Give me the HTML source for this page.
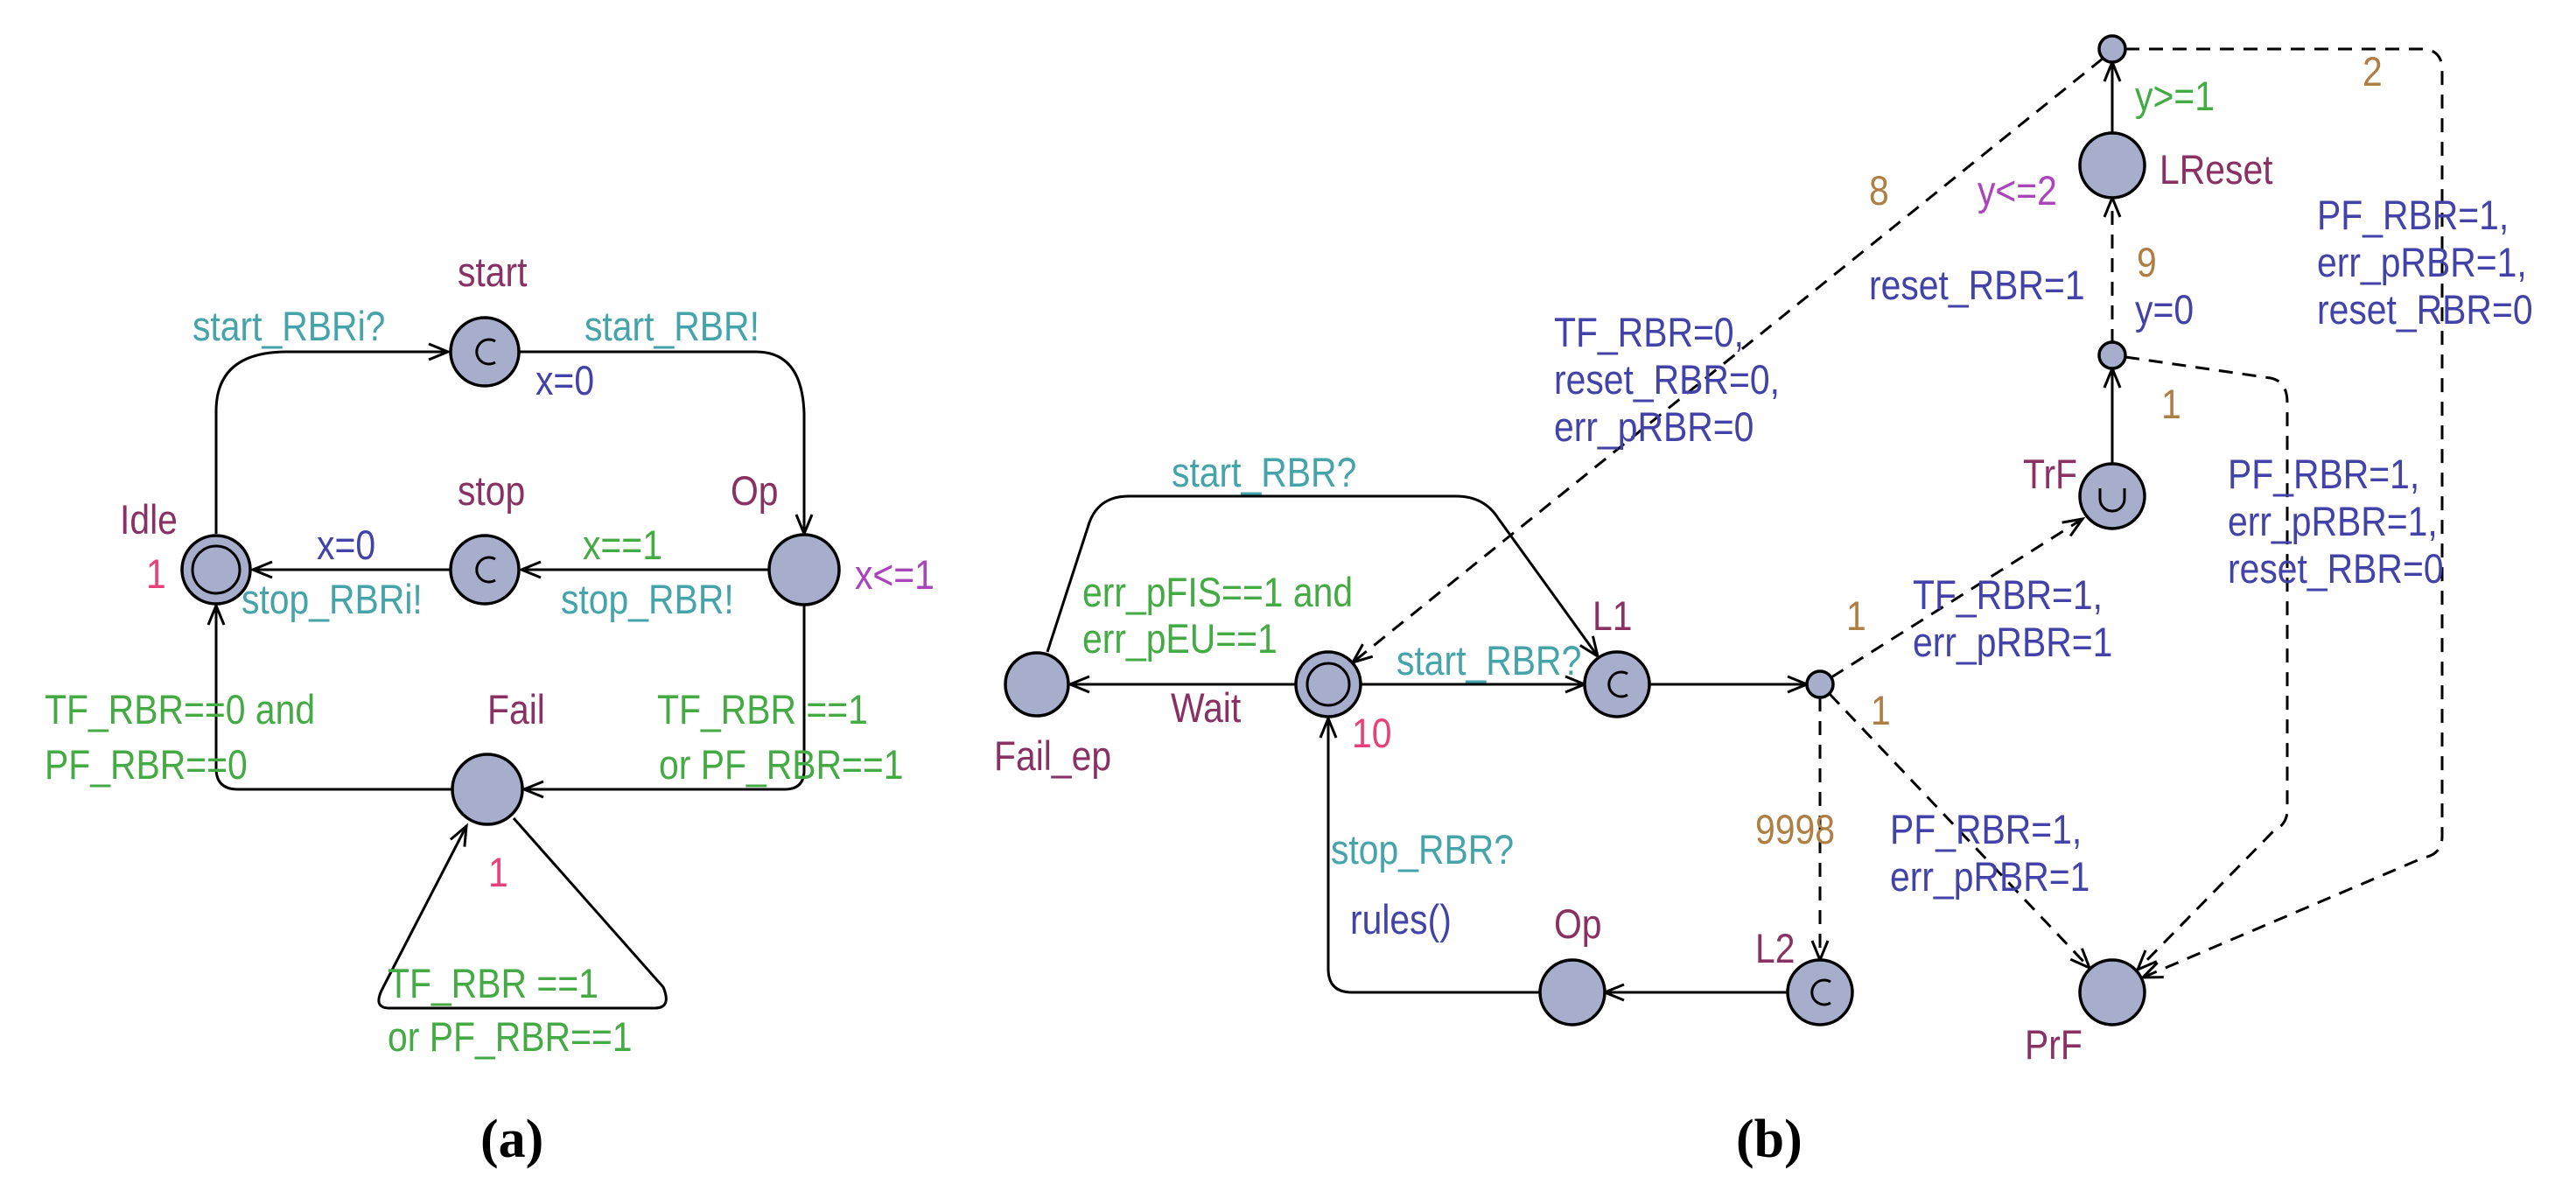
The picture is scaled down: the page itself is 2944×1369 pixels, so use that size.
<!DOCTYPE html>
<html><head><meta charset="utf-8"><style>
html,body{margin:0;padding:0;background:#fff}
svg{display:block}
text{font-family:"Liberation Sans",sans-serif;font-size:47px;transform-box:fill-box;transform-origin:0 100%;transform:scaleX(0.87)}
text.cap{transform:none}
.nm{fill:#8a3163}.sy{fill:#45a3aa}.as{fill:#4242a8}.gd{fill:#44aa44}.pk{fill:#e8407a}.br{fill:#ad7f45}.iv{fill:#aa44bb}
.e{fill:none;stroke:#000;stroke-width:3}
.d{fill:none;stroke:#000;stroke-width:3;stroke-dasharray:16 11}
.n{fill:#a6aecc;stroke:#000;stroke-width:3.5}
</style></head><body>
<svg width="2944" height="1369" viewBox="0 0 2944 1369" xmlns="http://www.w3.org/2000/svg">
<defs>
<marker id="a" markerUnits="userSpaceOnUse" markerWidth="40" markerHeight="40" refX="30" refY="20" orient="auto">
<path d="M8,11 L30,20 L8,29" fill="none" stroke="#000" stroke-width="3"/>
</marker>
</defs>

<!-- (a) edges -->
<path class="e" d="M247,610 L247,470 Q247,402 328,402 L512,402" marker-end="url(#a)"/>
<path class="e" d="M594,402 L864,402 Q917,402 919,473 L919,610" marker-end="url(#a)"/>
<path class="e" d="M879,651 L596,651" marker-end="url(#a)"/>
<path class="e" d="M514,651 L289,651" marker-end="url(#a)"/>
<path class="e" d="M919,691 L919,880 Q919,902 897,902 L599,902" marker-end="url(#a)"/>
<path class="e" d="M517,902 L272,902 Q247,902 247,878 L247,692" marker-end="url(#a)"/>
<path class="e" d="M587,935 L758,1128 Q768,1152 748,1152 L445,1152 Q425,1152 438,1128 L533,944" marker-end="url(#a)"/>

<!-- (a) nodes -->
<circle class="n" cx="554" cy="402" r="39"/>
<path d="M566,390 A14,14 0 1 0 566,414" fill="none" stroke="#000" stroke-width="3"/>
<circle class="n" cx="554" cy="651" r="39"/>
<path d="M566,639 A14,14 0 1 0 566,663" fill="none" stroke="#000" stroke-width="3"/>
<circle class="n" cx="247" cy="651" r="39"/>
<circle cx="247" cy="651" r="27" fill="none" stroke="#000" stroke-width="3"/>
<circle class="n" cx="919" cy="651" r="40"/>
<circle class="n" cx="557" cy="902" r="40"/>

<!-- (a) labels -->
<text class="nm" x="523" y="327">start</text>
<text class="sy" x="220" y="389">start_RBRi?</text>
<text class="sy" x="668" y="389">start_RBR!</text>
<text class="as" x="612" y="451">x=0</text>
<text class="nm" x="523" y="577">stop</text>
<text class="nm" x="835" y="577">Op</text>
<text class="nm" x="137" y="610">Idle</text>
<text class="pk" x="167" y="672">1</text>
<text class="as" x="362" y="639">x=0</text>
<text class="sy" x="276" y="701">stop_RBRi!</text>
<text class="gd" x="666" y="639">x==1</text>
<text class="sy" x="641" y="701">stop_RBR!</text>
<text class="iv" x="977" y="673">x&lt;=1</text>
<text class="gd" x="51" y="827">TF_RBR==0 and</text>
<text class="gd" x="51" y="890">PF_RBR==0</text>
<text class="nm" x="557" y="827">Fail</text>
<text class="gd" x="751" y="827">TF_RBR ==1</text>
<text class="gd" x="753" y="890">or PF_RBR==1</text>
<text class="pk" x="558" y="1013">1</text>
<text class="gd" x="443" y="1140">TF_RBR ==1</text>
<text class="gd" x="443" y="1201">or PF_RBR==1</text>

<!-- (b) edges -->
<path class="e" d="M1481,782 L1223,782" marker-end="url(#a)"/>
<path class="e" d="M1197,745 L1245,597 Q1256,567 1290,567 L1664,567 Q1696,567 1712,592 L1826,750" marker-end="url(#a)"/>
<path class="e" d="M1555,782 L1811,782" marker-end="url(#a)"/>
<path class="e" d="M1885,782 L2065,782" marker-end="url(#a)"/>
<path class="d" d="M2080,797 L2080,1097" marker-end="url(#a)"/>
<path class="e" d="M2043,1134 L1834,1134" marker-end="url(#a)"/>
<path class="e" d="M1760,1134 L1545,1134 Q1518,1134 1518,1107 L1518,821" marker-end="url(#a)"/>
<path class="d" d="M2093,774 L2380,593" marker-end="url(#a)"/>
<path class="d" d="M2091,793 L2388,1106" marker-end="url(#a)"/>
<path class="e" d="M2414,531 L2414,421" marker-end="url(#a)"/>
<path class="d" d="M2414,392 L2414,226" marker-end="url(#a)"/>
<path class="e" d="M2414,152 L2414,71" marker-end="url(#a)"/>
<path class="d" d="M2403,67 L1546,757" marker-end="url(#a)"/>
<path class="d" d="M2429,56 L2767,56 Q2791,56 2791,80 L2791,956 Q2791,976 2770,980 L2449,1117" marker-end="url(#a)"/>
<path class="d" d="M2429,408 L2595,432 Q2614,436 2614,460 L2614,926 Q2614,942 2598,950 L2443,1108" marker-end="url(#a)"/>

<!-- (b) nodes -->
<circle class="n" cx="1185" cy="782" r="36"/>
<circle class="n" cx="1518" cy="782" r="37"/>
<circle cx="1518" cy="782" r="24" fill="none" stroke="#000" stroke-width="3"/>
<circle class="n" cx="1848" cy="782" r="37"/>
<path d="M1860,770 A14,14 0 1 0 1860,794" fill="none" stroke="#000" stroke-width="3"/>
<circle class="n" cx="2080" cy="782" r="15"/>
<circle class="n" cx="2080" cy="1134" r="37"/>
<path d="M2092,1122 A14,14 0 1 0 2092,1146" fill="none" stroke="#000" stroke-width="3"/>
<circle class="n" cx="1797" cy="1134" r="37"/>
<circle class="n" cx="2414" cy="1134" r="37"/>
<circle class="n" cx="2414" cy="567" r="37"/>
<path d="M2400,558 L2400,570 A14,14 0 0 0 2428,570 L2428,558" fill="none" stroke="#000" stroke-width="3"/>
<circle class="n" cx="2414" cy="406" r="15"/>
<circle class="n" cx="2414" cy="189" r="37"/>
<circle class="n" cx="2414" cy="56" r="15"/>

<!-- (b) labels -->
<text class="gd" x="2440" y="126">y&gt;=1</text>
<text class="nm" x="2468" y="210">LReset</text>
<text class="br" x="2700" y="98">2</text>
<text class="br" x="2136" y="234">8</text>
<text class="iv" x="2260" y="234">y&lt;=2</text>
<text class="as" x="2648" y="262">PF_RBR=1,</text>
<text class="as" x="2648" y="316">err_pRBR=1,</text>
<text class="as" x="2648" y="370">reset_RBR=0</text>
<text class="br" x="2442" y="316">9</text>
<text class="as" x="2136" y="342">reset_RBR=1</text>
<text class="as" x="2440" y="370">y=0</text>
<text class="as" x="1776" y="396">TF_RBR=0,</text>
<text class="as" x="1776" y="450">reset_RBR=0,</text>
<text class="as" x="1776" y="504">err_pRBR=0</text>
<text class="br" x="2470" y="478">1</text>
<text class="nm" x="2312" y="558">TrF</text>
<text class="as" x="2546" y="558">PF_RBR=1,</text>
<text class="as" x="2546" y="612">err_pRBR=1,</text>
<text class="as" x="2546" y="666">reset_RBR=0</text>
<text class="as" x="2186" y="696">TF_RBR=1,</text>
<text class="as" x="2186" y="750">err_pRBR=1</text>
<text class="br" x="2110" y="720">1</text>
<text class="nm" x="1820" y="720">L1</text>
<text class="br" x="2138" y="828">1</text>
<text class="br" x="2006" y="964">9998</text>
<text class="as" x="2160" y="964">PF_RBR=1,</text>
<text class="as" x="2160" y="1018">err_pRBR=1</text>
<text class="nm" x="1776" y="1072">Op</text>
<text class="nm" x="2006" y="1100">L2</text>
<text class="nm" x="2314" y="1210">PrF</text>
<text class="sy" x="1339" y="556">start_RBR?</text>
<text class="gd" x="1237" y="693">err_pFIS==1 and</text>
<text class="gd" x="1237" y="746">err_pEU==1</text>
<text class="sy" x="1596" y="771">start_RBR?</text>
<text class="nm" x="1338" y="825">Wait</text>
<text class="pk" x="1545" y="854">10</text>
<text class="nm" x="1136" y="880">Fail_ep</text>
<text class="sy" x="1521" y="987">stop_RBR?</text>
<text class="as" x="1543" y="1067">rules()</text>

<text class="cap" x="549" y="1322" style="font-family:'Liberation Serif',serif;font-size:62px;font-weight:bold">(a)</text>
<text class="cap" x="1984" y="1322" style="font-family:'Liberation Serif',serif;font-size:62px;font-weight:bold">(b)</text>
</svg>
</body></html>
